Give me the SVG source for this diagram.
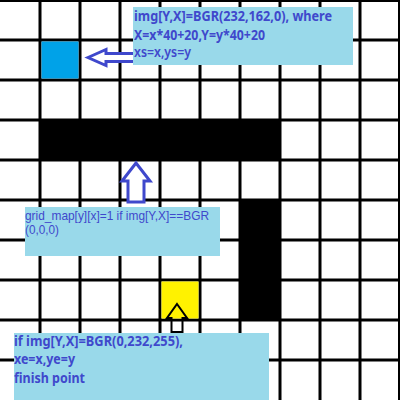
<svg xmlns="http://www.w3.org/2000/svg" width="400" height="400" viewBox="0 0 400 400">
<style>
.grid{stroke:#000;stroke-width:3;fill:none}
.box{fill:#99D9EA}
.t{font-family:"Noto Sans","Liberation Sans",sans-serif;fill:#3F48CC}
.b{font-weight:bold;font-size:14px}
.r{font-family:"Liberation Sans","Noto Sans",sans-serif;font-size:13px}
.arr{fill:#fff;stroke:#3F48CC;stroke-width:3;stroke-linejoin:miter}
</style>
<rect width="400" height="400" fill="#fff"/>
<g id="grid">
<path class="grid" d="M40 0V400M80 0V400M120 0V400M160 0V400M200 0V400M240 0V400M280 0V400M320 0V400M360 0V400M40 40H400M0 80H400M0 120H400M0 160H400M0 200H400M0 240H400M0 280H400M0 320H400M0 360H400M0 40H40"/>
<path d="M399 0V400M0 1H400" stroke="#000" stroke-width="2"/>
</g>
<g id="start"><rect x="41.5" y="41.5" width="37" height="37" fill="#00A2E8"/></g>
<g id="walls">
<rect x="40" y="120" width="240" height="40" fill="#000"/>
<rect x="240" y="200" width="40" height="120" fill="#000"/>
</g>
<g id="finish"><rect x="161.5" y="281.5" width="37" height="37" fill="#FFF200"/></g>
<g id="connectors">
<polygon class="arr" points="88,57.5 106,49.5 106,53.5 136,53.5 136,61.5 106,61.5 106,65.5"/>
<polygon class="arr" points="136,163 150,181 144,181 144,202 128,202 128,181 122,181"/>
<polygon points="177,304 187,318 182.5,318 182.5,332 171.5,332 171.5,318 167,318" fill="none" stroke="#000" stroke-width="2"/>
</g>
<g id="label1">
<rect class="box" x="133" y="7" width="220" height="58"/>
<text class="t b" x="134" y="21" textLength="198" lengthAdjust="spacingAndGlyphs">img[Y,X]=BGR(232,162,0), where</text>
<text class="t b" x="134" y="39.5" textLength="131" lengthAdjust="spacingAndGlyphs">X=x*40+20,Y=y*40+20</text>
<text class="t b" x="134" y="57" textLength="57" lengthAdjust="spacingAndGlyphs" style="font-weight:600">xs=x,ys=y</text>
</g>
<g id="label2">
<rect class="box" x="25" y="207" width="195" height="49"/>
<text class="t r" x="25" y="220" textLength="184" lengthAdjust="spacingAndGlyphs">grid_map[y][x]=1 if img[Y,X]==BGR</text>
<text class="t r" x="25" y="234" textLength="34" lengthAdjust="spacingAndGlyphs">(0,0,0)</text>
</g>
<g id="label3">
<rect class="box" x="14" y="333" width="255" height="67"/>
<text class="t b" x="14" y="346" textLength="169" lengthAdjust="spacingAndGlyphs">if img[Y,X]=BGR(0,232,255),</text>
<text class="t b" x="14" y="364" textLength="61" lengthAdjust="spacingAndGlyphs">xe=x,ye=y</text>
<text class="t b" x="14" y="383" textLength="71" lengthAdjust="spacingAndGlyphs">finish point</text>
</g>
</svg>
